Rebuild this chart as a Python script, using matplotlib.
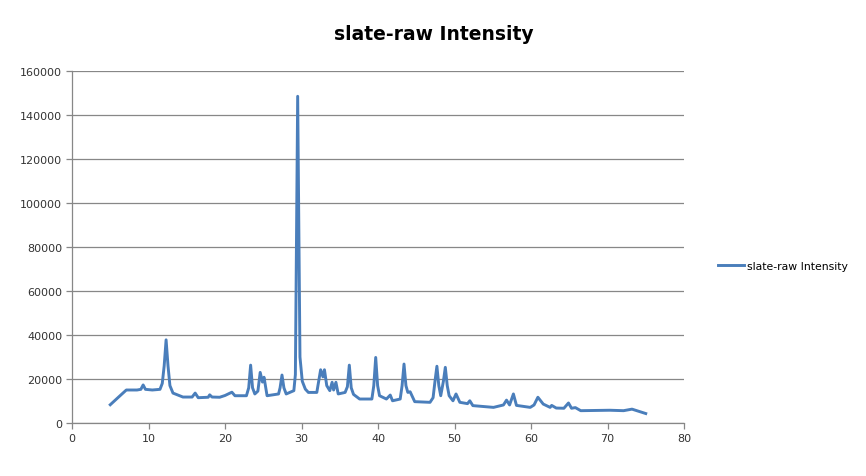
import matplotlib.pyplot as plt

# two-theta positions and intensities
two_theta = [5.0, 6.0, 7.1, 8.5, 9.0, 9.3, 9.6, 10.5, 11.5, 11.8, 12.05, 12.3, 12.55, 12.8, 13.2,
             14.5, 15.7, 16.1, 16.5, 17.8, 18.0, 18.3, 19.3, 20.0, 20.9, 21.3, 22.8,
             23.1, 23.35, 23.6, 23.9, 24.3, 24.6, 24.9, 25.1, 25.5, 27.0, 27.2, 27.45, 27.7, 28.0, 29.0,
             29.2, 29.5, 29.8, 30.1, 30.5, 30.9, 32.0, 32.5, 32.8, 33.0, 33.3, 33.7,
             34.0, 34.2, 34.5, 34.8, 35.7, 36.0, 36.25, 36.5, 36.8, 37.6, 39.2, 39.45,
             39.7, 39.95, 40.2, 41.1, 41.6, 41.9, 42.9, 43.15, 43.4, 43.65, 43.9, 44.2,
             44.8, 46.8, 47.2, 47.45, 47.7, 47.95, 48.2, 48.55, 48.8, 49.05, 49.3, 49.8, 50.2, 50.7, 51.7, 52.0,
             52.4, 55.1, 56.4, 56.8, 57.2, 57.7, 58.1, 59.9, 60.4, 60.9, 61.6, 62.5,
             62.7, 63.3, 64.3, 64.9, 65.3, 65.8, 66.5, 70.3, 72.1, 73.2, 75.0]
intensity = [8300, 11500, 15000, 15000, 15300, 17300, 15300, 15000, 15300, 18000, 26000, 37800, 26000, 17000, 13600,
             11800, 11800, 13600, 11500, 11700, 12800, 11800, 11700, 12500, 14000, 12400, 12400,
             16000, 26300, 16000, 13200, 14500, 23000, 18600, 20800, 12400, 13200, 16000, 21800, 16000, 13200, 14700,
             22000, 148500, 30000, 19000, 15400, 13900, 13900, 24200, 21000, 24200, 17000, 14700,
             18500, 15000, 18500, 13200, 13900, 16500, 26300, 16000, 13000, 10900, 10900, 17000,
             29800, 17000, 12400, 10900, 12700, 10100, 10900, 17000, 26800, 17000, 13900, 14200,
             9700, 9400, 11500, 19000, 25800, 17000, 12400, 19000, 25300, 17000, 12400, 10100, 13200, 9400, 8800, 10100,
             7900, 7100, 8200, 10400, 8200, 13200, 8000, 7100, 8200, 11700, 8600, 7100,
             8000, 6800, 6700, 9100, 6700, 7000, 5600, 5800, 5600, 6300, 4300]

x_ticks = list(range(0, 81, 10))
y_ticks = list(range(0, 160001, 20000))

fig = plt.figure(figsize=(8.66, 4.77), dpi=100)
ax = fig.add_axes([72 / 866, 1 - 424 / 477, 612 / 866, 352 / 477])

line_color = '#4A7EBB'
grid_color = '#878787'

ax.plot(two_theta, intensity, color=line_color, linewidth=2.1,
        solid_joinstyle='round', label='slate-raw Intensity')

ax.set_xlim(0, 80)
ax.set_ylim(0, 160000)
ax.set_xticks(x_ticks)
ax.set_yticks(y_ticks)
ax.yaxis.grid(True, color=grid_color, linewidth=0.9)
ax.set_axisbelow(True)

for side in ['top', 'right']:
    ax.spines[side].set_visible(False)
for side in ['left', 'bottom']:
    ax.spines[side].set_color(grid_color)
    ax.spines[side].set_linewidth(0.9)
ax.tick_params(direction='out', length=4, width=0.9, color=grid_color,
               labelsize=8, labelcolor='#333333', pad=3)

fig.text(0.501, 1 - 34 / 477, 'slate-raw Intensity', ha='center', va='center',
         fontsize=13.5, fontweight='bold')

fig.legend(loc='center left', bbox_to_anchor=(708 / 866, 1 - 267 / 477),
           frameon=False, fontsize=7.8, handlelength=2.4, handletextpad=0.3)

fig.savefig('out.png', dpi=100)
